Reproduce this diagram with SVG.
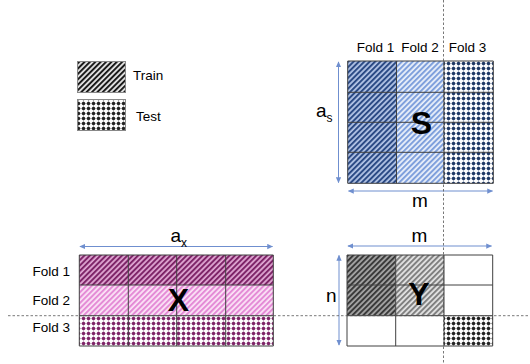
<svg xmlns="http://www.w3.org/2000/svg" width="530" height="364" viewBox="0 0 530 364">
<style>
text{font-family:"Liberation Sans",Arial,sans-serif;fill:#000}
.lab{font-size:13.5px}
.dim{font-size:19px}
.big{font-size:32px;font-weight:bold;text-anchor:middle}
.grid{fill:none;stroke:#404040;stroke-width:1}
.arr{stroke:#6f8fcf;stroke-width:1;fill:none;marker-start:url(#ah);marker-end:url(#ah)}
.dash{stroke:#555;stroke-width:0.8;stroke-dasharray:2.5 2;fill:none}
</style>
<defs>
<marker id="ah" viewBox="0 0 8 8" refX="7" refY="4" markerWidth="6" markerHeight="6" orient="auto-start-reverse" markerUnits="userSpaceOnUse"><path d="M0,0.5 L8,4 L0,7.5 Z" fill="#6f8fcf"/></marker>
<pattern id="sBlueD" width="3.8" height="3.8" patternUnits="userSpaceOnUse" patternTransform="rotate(45)"><rect width="3.8" height="3.8" fill="#b3c4e6"/><rect width="2" height="3.8" fill="#2b4a85"/></pattern>
<pattern id="sBlueL" width="3.8" height="3.8" patternUnits="userSpaceOnUse" patternTransform="rotate(45)"><rect width="3.8" height="3.8" fill="#eaf0fa"/><rect width="2" height="3.8" fill="#7fa0dc"/></pattern>
<pattern id="dBlue" width="5" height="5" patternUnits="userSpaceOnUse" x="1" y="1"><rect width="5" height="5" fill="#fff"/><rect x="1.1" y="1.1" width="2.8" height="2.8" fill="#1f3864"/><rect x="1.9" y="0.6" width="1.2" height="3.8" fill="#1f3864"/><rect x="0.6" y="1.9" width="3.8" height="1.2" fill="#1f3864"/></pattern>
<pattern id="sPurD" width="3.8" height="3.8" patternUnits="userSpaceOnUse" patternTransform="rotate(45)"><rect width="3.8" height="3.8" fill="#dfa6d2"/><rect width="2" height="3.8" fill="#7e2468"/></pattern>
<pattern id="sPurL" width="3.8" height="3.8" patternUnits="userSpaceOnUse" patternTransform="rotate(45)"><rect width="3.8" height="3.8" fill="#fbe3f6"/><rect width="2" height="3.8" fill="#e48bd6"/></pattern>
<pattern id="dPur" width="5" height="5" patternUnits="userSpaceOnUse" x="1" y="1"><rect width="5" height="5" fill="#fff"/><rect x="1.1" y="1.1" width="2.8" height="2.8" fill="#7e2468"/><rect x="1.9" y="0.6" width="1.2" height="3.8" fill="#7e2468"/><rect x="0.6" y="1.9" width="3.8" height="1.2" fill="#7e2468"/></pattern>
<pattern id="sGrD" width="3.8" height="3.8" patternUnits="userSpaceOnUse" patternTransform="rotate(45)"><rect width="3.8" height="3.8" fill="#a6a6a6"/><rect width="2" height="3.8" fill="#3a3a3a"/></pattern>
<pattern id="sGrL" width="3.8" height="3.8" patternUnits="userSpaceOnUse" patternTransform="rotate(45)"><rect width="3.8" height="3.8" fill="#e4e4e4"/><rect width="2" height="3.8" fill="#808080"/></pattern>
<pattern id="dBlk" width="5" height="5" patternUnits="userSpaceOnUse" x="1" y="1"><rect width="5" height="5" fill="#fff"/><rect x="1.1" y="1.1" width="2.8" height="2.8" fill="#222"/><rect x="1.9" y="0.6" width="1.2" height="3.8" fill="#222"/><rect x="0.6" y="1.9" width="3.8" height="1.2" fill="#222"/></pattern>
<pattern id="sBlk" width="3.8" height="3.8" patternUnits="userSpaceOnUse" patternTransform="rotate(45)"><rect width="3.8" height="3.8" fill="#e8e8e8"/><rect width="2" height="3.8" fill="#1a1a1a"/></pattern>
</defs>

<g id="legend">
<rect x="77.5" y="61.5" width="48" height="31" fill="url(#sBlk)" stroke="#888" stroke-width="1"/>
<text class="lab" x="133" y="80">Train</text>
<rect x="77.5" y="99.5" width="48" height="31" fill="url(#dBlk)" stroke="#888" stroke-width="1"/>
<text class="lab" x="136" y="121">Test</text>
</g>

<g id="S">
<text class="lab" x="375.5" y="51.5" text-anchor="middle">Fold 1</text>
<text class="lab" x="420" y="51.5" text-anchor="middle">Fold 2</text>
<text class="lab" x="467.5" y="51.5" text-anchor="middle">Fold 3</text>
<rect x="347.7" y="61" width="48.8" height="122.3" fill="url(#sBlueD)"/>
<rect x="396.5" y="61" width="47.5" height="122.3" fill="url(#sBlueL)"/>
<rect x="444" y="61" width="49.3" height="122.3" fill="url(#dBlue)"/>
<path class="grid" d="M347.7,61H493.3V183.3H347.7Z M347.7,92.3H493.3 M347.7,122.3H493.3 M347.7,152.3H493.3 M396.5,61V183.3 M444,61V183.3"/>
<text class="big" x="421.5" y="134">S</text>
</g>

<g id="X">
<text class="lab" x="70" y="276" text-anchor="end">Fold 1</text>
<text class="lab" x="70" y="305" text-anchor="end">Fold 2</text>
<text class="lab" x="70" y="332" text-anchor="end">Fold 3</text>
<rect x="79.3" y="255" width="194" height="30" fill="url(#sPurD)"/>
<rect x="79.3" y="285" width="194" height="30.7" fill="url(#sPurL)"/>
<rect x="79.3" y="315.7" width="194" height="30.3" fill="url(#dPur)"/>
<path class="grid" d="M79.3,255H273.3V346H79.3Z M79.3,285H273.3 M79.3,315.7H273.3 M128.3,255V346 M176.7,255V346 M225.7,255V346"/>
<text class="big" x="178.3" y="311">X</text>
</g>

<g id="Y">
<rect x="347" y="255" width="48.7" height="60.7" fill="url(#sGrD)"/>
<rect x="395.7" y="255" width="48.3" height="60.7" fill="url(#sGrL)"/>
<rect x="444" y="315.7" width="48.7" height="30.3" fill="url(#dBlk)"/>
<path class="grid" d="M347,255H492.7V346H347Z M347,285H492.7 M347,315.7H492.7 M395.7,255V346 M444,255V346"/>
<text class="big" x="419" y="305">Y</text>
</g>

<g id="connectors">
<line class="arr" x1="338.5" y1="62" x2="338.5" y2="182.5"/>
<line class="arr" x1="348.5" y1="191" x2="492.5" y2="191"/>
<line class="arr" x1="80" y1="246.5" x2="272.5" y2="246.5"/>
<line class="arr" x1="348" y1="246" x2="491.5" y2="246"/>
<line class="arr" x1="339" y1="255.5" x2="339" y2="345"/>
<line class="dash" x1="443.5" y1="0" x2="443.5" y2="364"/>
<line class="dash" x1="8" y1="315.7" x2="530" y2="315.7"/>
</g>

<g id="dims">
<text class="dim" x="316" y="117">a<tspan font-size="12" dy="5">s</tspan></text>
<text class="dim" x="420" y="207" text-anchor="middle">m</text>
<text class="dim" x="170.5" y="242">a<tspan font-size="12" dy="5">x</tspan></text>
<text class="dim" x="419.3" y="242" text-anchor="middle">m</text>
<text class="dim" x="326" y="302">n</text>
</g>
</svg>
